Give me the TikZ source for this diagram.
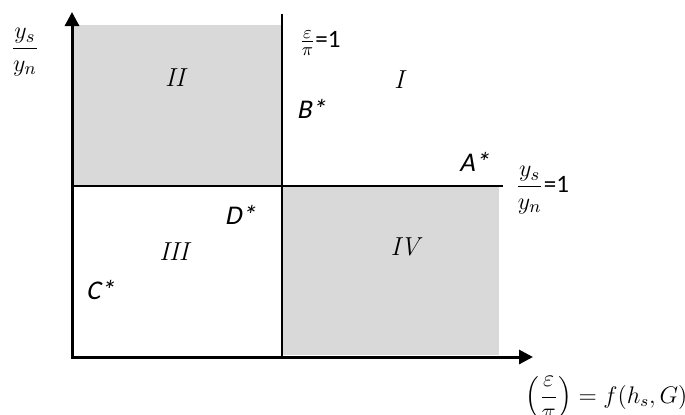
\documentclass[tikz,border=0pt]{standalone}
\usepackage{amsmath,amssymb}
\usepackage{fontspec}
\newfontfamily\lblfont{Carlito}
\newfontfamily\lblitfont{Carlito}[FakeSlant=0.2]
\usepackage{tikz}
\usetikzlibrary{arrows.meta}

\newcommand{\eqonelbl}{{\lblfont\fontsize{12.5}{14}\selectfont=1}}

\tikzset{
  region/.style={inner sep=0pt,font=\fontsize{13}{15}\selectfont\itshape},
  point/.style={inner sep=0pt,font=\fontsize{13.5}{15}\selectfont\lblitfont},
  mathlbl/.style={inner sep=0pt,font=\fontsize{13}{15}\selectfont}
}

\begin{document}
\begin{tikzpicture}[x=0.5pt,y=-0.5pt,>={Triangle[length=7pt,width=7pt]},line join=miter]
  \useasboundingbox (0,0) rectangle (685,414);
  \coordinate (O) at (72,357);
  \coordinate (YT) at (72,12);
  \coordinate (XT) at (533,357);
  \coordinate (VT) at (282,14);
  \coordinate (VB) at (282,357);
  \coordinate (HL) at (72,186);
  \coordinate (HR) at (503,186);
  % shaded quadrants
  \fill[black!15] (73,25) rectangle (282,186);
  \fill[black!15] (282,186) rectangle (499,355);
  % dividing lines
  \draw[line width=0.6pt] (VT) -- (VB);
  \draw[line width=0.6pt] (HL) -- (HR);
  % axes
  \draw[line width=1.5pt,<->] (YT) -- (O) -- (XT);
  % quadrants
  \node[region] (rI) at (399,80) {I};
  \node[region] (rII) at (175,78) {II};
  \node[region] (rIII) at (174,252) {III};
  \node[region] (rIV) at (405,247) {IV};
  % points
  \node[point] (pA) at (474,162) {A*};
  \node[point] (pB) at (311,109) {B*};
  \node[point] (pC) at (100,290) {C*};
  \node[point] (pD) at (240,215) {D*};
  % axis and line labels
  \node[mathlbl] (lyaxis) at (25,52) {$\dfrac{y_s}{y_n}$};
  \node[mathlbl,anchor=west] (lvline) at (299,43) {$\frac{\varepsilon}{\pi}$\eqonelbl};
  \node[mathlbl,anchor=west] (lhline) at (515,190) {$\dfrac{y_s}{y_n}$\eqonelbl};
  \node[mathlbl,anchor=west,font=\fontsize{11.5}{13}\selectfont] (lxaxis) at (525,398) {$\left(\dfrac{\varepsilon}{\pi}\right) = f(h_s,G)$};
\end{tikzpicture}
\end{document}
